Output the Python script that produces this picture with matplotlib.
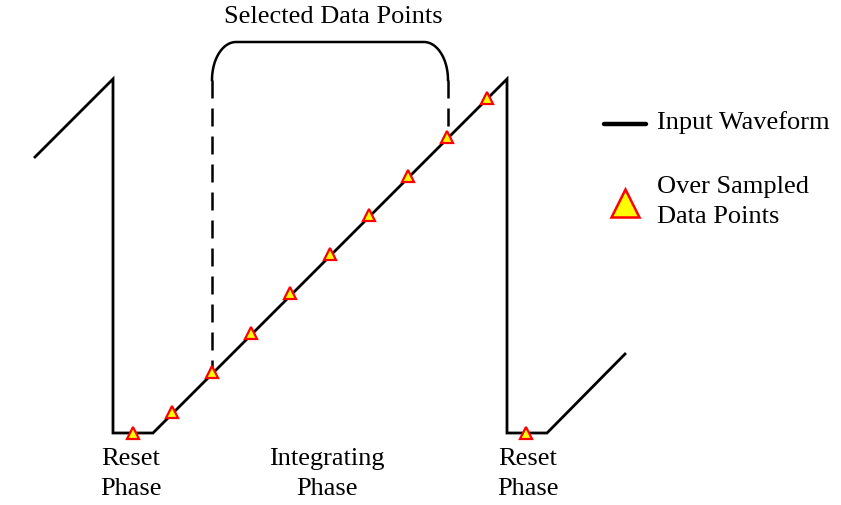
import numpy as np
import matplotlib.pyplot as plt

# waveform corners (pixel-like units, y grows downwards)
wave_x = [35, 113, 113, 153, 507, 507, 547, 625]
wave_y = [157, 79, 433, 433, 79, 433, 433, 354]

# over sampled points
pts_x = [133, 172, 212, 251, 290, 330, 369, 408, 447, 487, 526]
pts_y = [433, 412, 372, 333, 293, 254, 215, 176, 137, 98, 433]

# selected range (dashed bracket)
sel_left, sel_right = 212, 448
sel_bottom_left, sel_bottom_right = 372, 137
bracket_y, bracket_top = 80, 42

phase_labels = ["Reset\nPhase", "Integrating\nPhase", "Reset\nPhase"]
phase_x = [131, 327, 528]

plt.rcParams['font.family'] = ['Liberation Serif', 'DejaVu Serif']
FS = 19

fig = plt.figure(figsize=(8.41, 5.05), dpi=100)
ax = fig.add_axes([0, 0, 1, 1])
ax.set_xlim(0, 841)
ax.set_ylim(505, 0)
ax.axis("off")

ax.plot(wave_x, wave_y, color="black", lw=2, solid_joinstyle="miter")

# dashed verticals
ax.plot([sel_left, sel_left], [bracket_y, sel_bottom_left], color="black", lw=1.8,
        dashes=(7.2, 4))
ax.plot([sel_right, sel_right], [bracket_y, sel_bottom_right], color="black", lw=1.8,
        dashes=(7.2, 4))

# rounded bracket on top
rx, ry = 24, bracket_y - bracket_top
t = np.linspace(np.pi, 1.5 * np.pi, 30)
lx = sel_left + rx + rx * np.cos(t)
ly = bracket_y + ry * np.sin(t)
t2 = np.linspace(1.5 * np.pi, 2 * np.pi, 30)
rxs = sel_right - rx + rx * np.cos(t2)
rys = bracket_y + ry * np.sin(t2)
ax.plot(np.concatenate([lx, rxs]), np.concatenate([ly, rys]), color="black", lw=1.8)

ax.plot(pts_x, pts_y, linestyle="none", marker="^", markersize=9,
        markerfacecolor="yellow", markeredgecolor="red", markeredgewidth=1.6)

ax.text((sel_left + sel_right) / 2 + 3, 17, "Selected Data Points", fontsize=FS,
        ha="center", va="center")

for lab, x in zip(phase_labels, phase_x):
    ax.text(x, 474, lab, fontsize=FS, ha="center", va="center", linespacing=1.42)

# legend
ax.plot([604, 646], [124, 124], color="black", lw=3.2, solid_capstyle="round")
ax.text(657, 123, "Input Waveform", fontsize=FS, ha="left", va="center")
ax.plot([625], [203], linestyle="none", marker="^", markersize=20,
        markerfacecolor="yellow", markeredgecolor="red", markeredgewidth=1.8)
ax.text(657, 202, "Over Sampled\nData Points", fontsize=FS, ha="left", va="center",
        linespacing=1.45)

fig.savefig("out.png", dpi=100)
